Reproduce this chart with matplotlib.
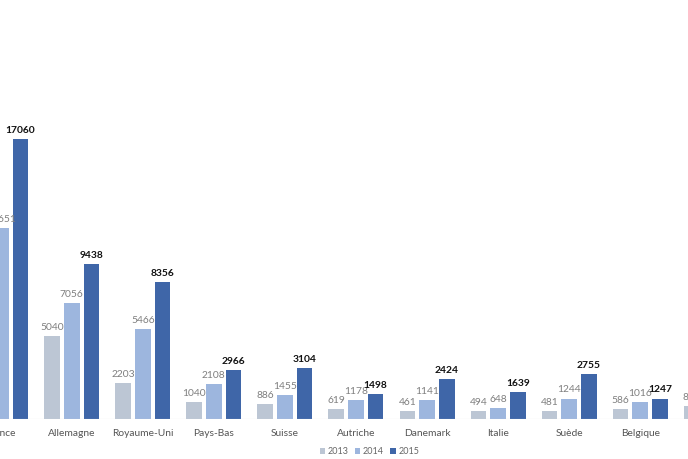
import matplotlib.pyplot as plt
import numpy as np

countries = ["France", "Allemagne", "Royaume-Uni", "Pays-Bas", "Suisse",
             "Autriche", "Danemark", "Italie", "Suède", "Belgique", ""]
v2013 = [9800, 5040, 2203, 1040, 886, 619, 461, 494, 481, 586, 800]
v2014 = [11651, 7056, 5466, 2108, 1455, 1178, 1141, 648, 1244, 1016, 1300]
v2015 = [17060, 9438, 8356, 2966, 3104, 1498, 2424, 1639, 2755, 1247, 1500]
years = ["2013", "2014", "2015"]
colors = ["#bcc6d4", "#9db6de", "#3f66a8"]

plt.rcParams['font.family'] = ['Lato', 'DejaVu Sans']

fig = plt.figure(figsize=(6.88, 4.59), dpi=100)
ax = fig.add_axes([0, 40 / 459, 1, 419 / 459])

x = np.arange(len(countries))
w = 0.22
off = 0.277
series = [v2013, v2014, v2015]
for k, vals in enumerate(series):
    xs = x + (k - 1) * off
    ax.bar(xs, vals, width=w, color=colors[k], label=years[k], zorder=2)
    for xi, v in zip(xs, vals):
        if k == 2:
            ax.text(xi, v + 250, str(v), ha='center', va='bottom',
                    fontsize=7.4, fontweight='bold', color='#111111')
        else:
            ax.text(xi, v + 250, str(v), ha='center', va='bottom',
                    fontsize=7.4, color='#7f7f7f')

ax.set_xticks(x)
ax.set_xticklabels(countries, fontsize=7.4, color='#555555')
ax.tick_params(axis='x', length=0, pad=7)
ax.set_xlim(-0.01, 688 / 71.05 - 0.01)
ax.set_ylim(0, 419 / 0.01641)
ax.axhline(0, color='#d9d9d9', lw=0.8, zorder=3)
for s in ax.spines.values():
    s.set_visible(False)
ax.set_yticks([])

leg = fig.legend(loc='lower center', bbox_to_anchor=(0.537, -0.012), ncol=3,
                 frameon=False, fontsize=6.5, handlelength=0.6, handleheight=0.6,
                 handletextpad=0.3, columnspacing=0.7, labelcolor='#666666')

fig.savefig("out.png", dpi=100)
